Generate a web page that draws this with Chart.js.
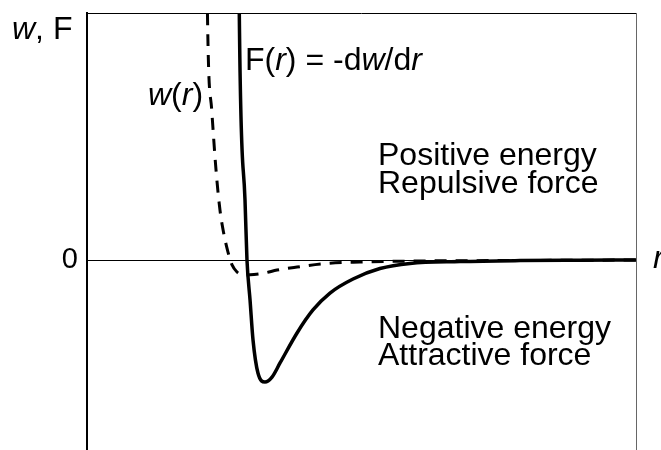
<!DOCTYPE html>
<html>
<head>
<meta charset="utf-8">
<style>
  html, body { margin: 0; padding: 0; background: #fff; }
  #wrap { width: 661px; height: 450px; position: relative; }
</style>
<script src="https://cdn.jsdelivr.net/npm/chart.js@4.4.1/dist/chart.umd.min.js"></script>
</head>
<body>
<div id="wrap"><canvas id="chart"></canvas></div>
<script>
// interaction force F(r) = -dw/dr (solid)
const forceR = [1.384, 1.387, 1.439, 1.457, 1.485, 1.512, 1.557, 1.621, 1.685, 1.758,
  1.913, 2.058, 2.213, 2.423, 2.668, 2.942, 3.397, 3.944, 4.490, 5.0];
const forceValues = [1.632, 1.300, 0.316, 0.000, -0.211, -0.421, -0.595, -0.642, -0.616, -0.542,
  -0.384, -0.263, -0.174, -0.100, -0.045, -0.018, -0.008, -0.003, -0.001, 0.0];

// pair potential w(r) (dashed)
const energyR = [1.093, 1.097, 1.136, 1.175, 1.211, 1.243, 1.284, 1.321, 1.366, 1.421,
  1.521, 1.621, 1.730, 1.913, 2.186, 2.486, 3.033, 3.761, 5.0];
const energyValues = [1.632, 1.300, 0.789, 0.474, 0.263, 0.147, 0.042, -0.026, -0.063, -0.079,
  -0.076, -0.068, -0.053, -0.037, -0.018, -0.011, -0.005, -0.003, 0.0];

const yTickValues = [0];
const yTickLabels = ['0'];

const FONT = '"Liberation Sans", Arial, sans-serif';

const toPoints = (xs, ys) => xs.map((x, i) => ({ x: x, y: ys[i] }));

// draw a line of text made of plain / italic pieces
function drawRuns(ctx, runs, x, y, size) {
  runs.forEach(([text, italic]) => {
    ctx.font = (italic ? 'italic ' : '') + size + 'px ' + FONT;
    ctx.fillText(text, x, y);
    x += ctx.measureText(text).width;
  });
}

const annotations = {
  id: 'annotations',
  afterDraw(chart) {
    const { ctx, chartArea } = chart;
    ctx.save();
    // top and right frame
    ctx.strokeStyle = '#000';
    ctx.lineWidth = 1;
    ctx.beginPath();
    ctx.moveTo(chartArea.left, chartArea.top + 0.5);
    ctx.lineTo(chartArea.right, chartArea.top + 0.5);
    ctx.stroke();
    ctx.strokeStyle = '#666';
    ctx.beginPath();
    ctx.moveTo(chartArea.right + 0.5, chartArea.top);
    ctx.lineTo(chartArea.right + 0.5, chartArea.bottom);
    ctx.stroke();

    ctx.fillStyle = '#000';
    ctx.textBaseline = 'alphabetic';
    ctx.textAlign = 'left';
    const size = 32;
    drawRuns(ctx, [['w', true], [', F', false]], 12, 39, size);
    drawRuns(ctx, [['F(', false], ['r', true], [') = -d', false], ['w', true], ['/d', false], ['r', true]], 245, 70, size);
    drawRuns(ctx, [['w', true], ['(', false], ['r', true], [')', false]], 148, 105, size);
    drawRuns(ctx, [['Positive energy', false]], 378, 165, size);
    drawRuns(ctx, [['Repulsive force', false]], 378, 193, size);
    drawRuns(ctx, [['Negative energy', false]], 378, 338, size);
    drawRuns(ctx, [['Attractive force', false]], 378, 365, size);
    drawRuns(ctx, [['r', true]], 653, 268, size);
    ctx.restore();
  }
};

new Chart(document.getElementById('chart'), {
  type: 'line',
  data: {
    datasets: [
      {
        label: 'w(r)',
        data: toPoints(energyR, energyValues),
        borderColor: '#000',
        borderWidth: 3,
        borderDash: [12, 9],
        pointRadius: 0,
        cubicInterpolationMode: 'monotone',
        fill: false,
        clip: 0,
      },
      {
        label: 'F(r) = -dw/dr',
        data: toPoints(forceR, forceValues),
        borderColor: '#000',
        borderWidth: 3.5,
        pointRadius: 0,
        cubicInterpolationMode: 'monotone',
        fill: false,
        clip: 0,
      },
    ],
  },
  options: {
    responsive: true,
    maintainAspectRatio: false,
    animation: false,
    layout: { padding: { left: 0, right: 25, top: 13, bottom: 0 } },
    scales: {
      x: {
        type: 'linear',
        min: 0,
        max: 5,
        display: false,
      },
      y: {
        type: 'linear',
        min: -1,
        max: 1.3,
        afterBuildTicks: (scale) => {
          scale.ticks = yTickValues.map((v) => ({ value: v }));
        },
        afterFit: (scale) => {
          scale.width = 87;
          scale.paddingTop = 0;
          scale.paddingBottom = 0;
        },
        ticks: {
          callback: (value) => yTickLabels[yTickValues.indexOf(value)],
          color: '#000',
          padding: 9,
          font: { family: FONT, size: 29 },
        },
        grid: {
          color: '#000',
          lineWidth: 1,
          drawTicks: false,
        },
        border: { display: true, color: '#000', width: 2 },
      },
    },
    plugins: {
      legend: { display: false },
      tooltip: { enabled: false },
    },
  },
  plugins: [annotations],
});
</script>
</body>
</html>
